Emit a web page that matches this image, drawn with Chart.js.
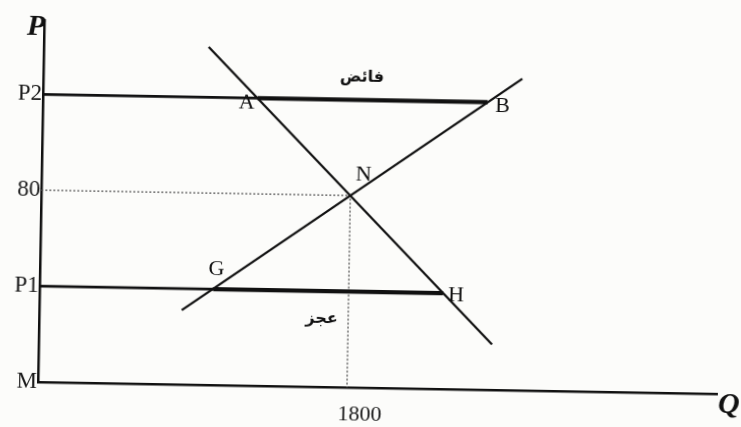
<!DOCTYPE html>
<html>
<head>
<meta charset="utf-8">
<script src="https://cdn.jsdelivr.net/npm/chart.js@4"></script>
<style>
  html, body { margin: 0; padding: 0; background: #fcfcfa; overflow: hidden; }
  /* the printed figure sits slightly askew on the page */
  #myChart { display: block; transform: rotate(1deg); transform-origin: 38px 382px; }
</style>
</head>
<body>
<canvas id="myChart" width="741" height="427"></canvas>
<script>
// axis ticks
const priceTicks = [0, 40, 80, 120];
const priceLabels = ["M", "P1", "80", "P2"];
const qtyTicks = [1800];
const qtyLabels = ["1800"];

// demand and supply curves (quantity, price)
const demandQ = [960, 2640];
const demandP = [141, 19];
const supplyQ = [830, 2790];
const supplyP = [31, 130];

// equilibrium
const eqQ = 1800;
const eqP = 80;

// price ceilings / floors and their crossing points
const highPrice = 120;
const lowPrice = 40;
const pointNames = ["A", "B", "N", "G", "H"];
const pointQ = [1250, 2590, 1800, 1010, 2350];
const pointP = [120, 120, 80, 40, 40];

const surplusText = "فائض";
const shortageText = "عجز";

const ink = "#111";

function seg(xs, ys) {
  return xs.map((x, i) => ({ x: x, y: ys[i] }));
}

const qA = pointQ[0], qB = pointQ[1], qG = pointQ[3], qH = pointQ[4];

// letter offsets from their points, in pixels
const letterShift = {
  A: [-11, 5], B: [15, 4], N: [13, -21], G: [3, -20], H: [13, 2]
};

const labelsPlugin = {
  id: "labels",
  afterDatasetsDraw(chart) {
    const ctx = chart.ctx;
    const xs = chart.scales.x, ys = chart.scales.y;
    const area = chart.chartArea;
    ctx.save();
    ctx.fillStyle = ink;
    ctx.textAlign = "center";
    ctx.textBaseline = "middle";

    ctx.font = "22px 'Liberation Serif'";
    pointNames.forEach((n, i) => {
      const s = letterShift[n];
      ctx.fillText(n, xs.getPixelForValue(pointQ[i]) + s[0], ys.getPixelForValue(pointP[i]) + s[1]);
    });

    // surplus above A-B, shortage below G-H
    ctx.font = "bold 16px 'DejaVu Sans'";
    ctx.fillText(surplusText, xs.getPixelForValue((qA + qB) / 2) - 11, ys.getPixelForValue(highPrice) - 22);
    ctx.fillText(shortageText, xs.getPixelForValue((qG + qH) / 2) - 6, ys.getPixelForValue(lowPrice) + 28);

    // axis names
    ctx.font = "italic bold 30px 'Liberation Serif'";
    ctx.fillText("P", area.left - 8, area.top + 7);
    ctx.fillText("Q", area.right + 12, area.bottom + 11);
    ctx.restore();
  }
};

const line = (data, width, extra) => Object.assign({
  data: data,
  showLine: true,
  borderColor: ink,
  borderWidth: width,
  pointRadius: 0,
  fill: false
}, extra || {});

let config = {
  type: "scatter",
  data: {
    datasets: [
      line(seg(demandQ, demandP), 2.3),
      line(seg(supplyQ, supplyP), 2.3),
      line(seg([0, qA], [highPrice, highPrice]), 2.8),
      line(seg([qA, qB], [highPrice, highPrice]), 4.2),
      line(seg([0, qG], [lowPrice, lowPrice]), 2.8),
      line(seg([qG, qH], [lowPrice, lowPrice]), 4.2),
      line(seg([0, eqQ, eqQ], [eqP, eqP, 0]), 1.3, { borderColor: "#555", borderDash: [2, 2] })
    ]
  },
  options: {
    responsive: false,
    animation: false,
    layout: { padding: { top: 20, right: 24, left: 0, bottom: 0 } },
    plugins: {
      legend: { display: false },
      tooltip: { enabled: false }
    },
    scales: {
      x: {
        type: "linear",
        min: 0,
        max: 3955,
        grid: { display: false, drawTicks: false },
        border: { display: true, color: ink, width: 2.5 },
        afterFit: (axis) => { axis.height = 45; },
        afterBuildTicks: (axis) => { axis.ticks = qtyTicks.map(v => ({ value: v })); },
        ticks: {
          padding: 14,
          labelOffset: 13,
          color: "#1a1a1a",
          font: { family: "'Liberation Serif'", size: 22 },
          callback: (v) => qtyLabels[qtyTicks.indexOf(v)]
        }
      },
      y: {
        type: "linear",
        min: 0,
        max: 151,
        grid: { display: false, drawTicks: false },
        border: { display: true, color: ink, width: 2.5 },
        afterFit: (axis) => { axis.width = 38; },
        afterBuildTicks: (axis) => { axis.ticks = priceTicks.map(v => ({ value: v })); },
        ticks: {
          padding: 1,
          color: "#1a1a1a",
          font: { family: "'Liberation Serif'", size: 23 },
          callback: (v) => priceLabels[priceTicks.indexOf(v)]
        }
      }
    }
  },
  plugins: [labelsPlugin]
};

window.addEventListener("load", function() {
  let ctx = document.getElementById("myChart").getContext("2d");
  myChart = new Chart(ctx, config);
}, false);
</script>
</body>
</html>
